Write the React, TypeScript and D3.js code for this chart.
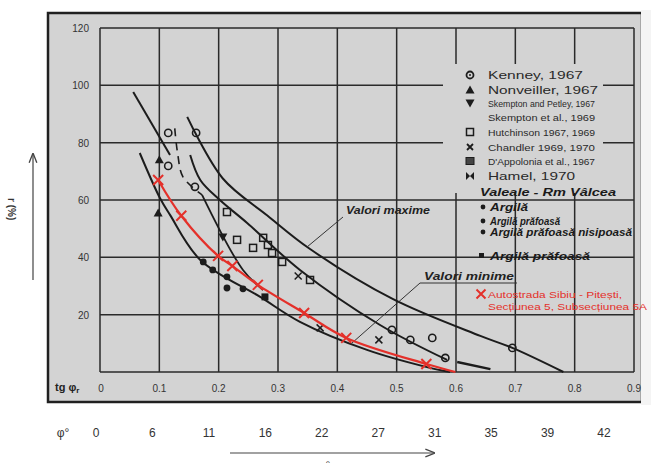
import React from "react";
import * as d3 from "d3";

const W = 651, H = 463;
const xTicks = [0, 0.1, 0.2, 0.3, 0.4, 0.5, 0.6, 0.7, 0.8, 0.9];
const xTickLabels = ["0", "0.1", "0.2", "0.3", "0.4", "0.5", "0.6", "0.7", "0.8", "0.9"];
const yTicks = [0, 20, 40, 60, 80, 100, 120];
const yTickLabels = ["20", "40", "60", "80", "100", "120"];
const phiLabels = ["0", "6", "11", "16", "22", "27", "31", "35", "39", "42"];

type P = [number, number];
const upperCurve: P[] = [[0.147, 89], [0.207, 67.5], [0.282, 54.6], [0.354, 42.9], [0.494, 25.4], [0.641, 12.6], [0.695, 8.4], [0.781, 0]];
const lowerCurve: P[] = [[0.067, 76.4], [0.101, 60.7], [0.118, 54.8], [0.169, 39.1], [0.27, 26.2], [0.337, 17.5], [0.45, 7.7], [0.551, 1.7], [0.59, 0]];
const steepLine: P[] = [[0.056, 97.7], [0.118, 75.7]];
const middleCurve: P[] = [[0.152, 75.7], [0.169, 67], [0.202, 60], [0.248, 52], [0.337, 35.6], [0.472, 16.4], [0.585, 4.2]];
const middleTail: P[] = [[0.602, 3.5], [0.658, 1.0]];
const dashedCurve: P[] = [[0.126, 85], [0.131, 76], [0.14, 68], [0.172, 61.8]];
const innerCurve: P[] = [[0.172, 61.8], [0.241, 35.6], [0.275, 28.6]];

const kenney: P[] = [[0.115, 83.4], [0.162, 83.4], [0.115, 71.9], [0.16, 64.6], [0.492, 14.7], [0.523, 11.2], [0.56, 11.9], [0.582, 4.9], [0.695, 8.4]];
const nonveiller: P[] = [[0.1, 74], [0.098, 55.5]];
const skempton: P[] = [[0.207, 47.1]];
const hutchinson: P[] = [[0.214, 55.8], [0.231, 46.1], [0.258, 43.3], [0.275, 46.8], [0.283, 44.3], [0.29, 41.5], [0.307, 38.4], [0.354, 32.1]];
const chandler: P[] = [[0.334, 33.5], [0.47, 11.2], [0.371, 15.4]];
const valeniDots: P[] = [[0.174, 38.4], [0.19, 35.6], [0.214, 33.2], [0.214, 29.3], [0.241, 29.0]];
const valeniSquares: P[] = [[0.278, 26.2]];
const redPoints: P[] = [[0.098, 67], [0.137, 54.5], [0.199, 40.5], [0.223, 37], [0.266, 30.4], [0.344, 20.6], [0.415, 11.9], [0.55, 2.8]];
const redEnd: P = [0.599, 0];

const legendItems = ["Kenney, 1967", "Nonveiller, 1967", "Skempton and Petley, 1967", "Skempton et al., 1969", "Hutchinson 1967, 1969", "Chandler 1969, 1970", "D'Appolonia et al., 1967", "Hamel, 1970"];
const valeniItems = ["Argilă", "Argilă prăfoasă", "Argilă prăfoasă nisipoasă", "Argilă prăfoasă"];

const x = d3.scaleLinear().domain([0, 0.9]).range([100, 634]);
const y = d3.scaleLinear().domain([0, 120]).range([372, 28]);
const phiX = d3.scalePoint<string>().domain(phiLabels).range([96, 604]);
const line = d3.line<P>().x(d => x(d[0])).y(d => y(d[1])).curve(d3.curveCatmullRom.alpha(0.5));
const straight = d3.line<P>().x(d => x(d[0])).y(d => y(d[1]));

const ink = "#1c1c1c";
const red = "#e4302a";
const font = "Liberation Sans, Arial, sans-serif";

function Circle({ cx, cy }: { cx: number; cy: number }) {
  return <circle cx={cx} cy={cy} r={3.6} fill="none" stroke={ink} strokeWidth={1.6} />;
}
function TriUp({ cx, cy }: { cx: number; cy: number }) {
  return <path d={`M${cx},${cy - 4.5}L${cx + 4.5},${cy + 3.5}L${cx - 4.5},${cy + 3.5}Z`} fill={ink} />;
}
function TriDown({ cx, cy }: { cx: number; cy: number }) {
  return <path d={`M${cx},${cy + 4.5}L${cx + 4.5},${cy - 3.5}L${cx - 4.5},${cy - 3.5}Z`} fill={ink} />;
}
function Square({ cx, cy }: { cx: number; cy: number }) {
  return <rect x={cx - 3.5} y={cy - 3.5} width={7} height={7} fill="none" stroke={ink} strokeWidth={1.5} />;
}
function Cross({ cx, cy, c = ink, s = 3.5, w = 1.5 }: { cx: number; cy: number; c?: string; s?: number; w?: number }) {
  return <path d={`M${cx - s},${cy - s}L${cx + s},${cy + s}M${cx - s},${cy + s}L${cx + s},${cy - s}`} stroke={c} strokeWidth={w} fill="none" />;
}

export default function App() {
  const gridV = xTicks.map(t => x(t));
  const gridH = yTicks.map(t => y(t));
  const legendX = 470, textX = 488;
  const legendY = [75, 90, 103, 117, 132, 147, 161, 176];
  const compact = [false, false, true, true, true, true, true, false];
  const valY = [208, 222, 233, 257];
  return (
    <svg width={W} height={H} style={{ position: "absolute", left: 0, top: 0, background: "#fff" }} fontFamily={font}>
      <defs>
        <marker id="ah" viewBox="0 0 10 10" refX="9" refY="5" markerWidth="8" markerHeight="8" orient="auto">
          <path d="M0,1L10,5L0,9" fill="none" stroke="#444" strokeWidth={1.4} />
        </marker>
      </defs>
      {/* panel */}
      <rect x={48} y={13} width={594} height={389} fill="#d3d3d3" stroke="#202020" strokeWidth={2.5} />
      <rect x={641} y={10} width={10} height={395} fill="#f4f4f4" />
      {/* grid */}
      {gridV.map((gx, i) => (
        <line key={"v" + i} x1={gx} x2={gx} y1={y(120)} y2={y(0)} stroke="#2a2a2a" strokeWidth={1.5} />
      ))}
      {gridH.map((gy, i) => (
        <line key={"h" + i} x1={x(0)} x2={x(0.9)} y1={gy} y2={gy} stroke="#2a2a2a" strokeWidth={1.5} />
      ))}
      {/* legend mask */}
      <rect x={443} y={64} width={160} height={129} fill="#d3d3d3" />
      {/* axis labels */}
      {yTickLabels.map((l, i) => (
        <text key={"yl" + i} x={89} y={y(yTicks[i + 1]) + 4} fontSize={10} textAnchor="end" fill="#333">{l}</text>
      ))}
      {xTickLabels.map((l, i) => (
        <text key={"xl" + i} x={x(xTicks[i]) + (i === 0 ? 1 : 0)} y={392} fontSize={10} textAnchor="middle" fill="#333">{l}</text>
      ))}
      <text x={55} y={391} fontSize={11} fontWeight="bold" fill="#222">tg φ<tspan fontSize={8} dy={2}>r</tspan></text>
      {/* phi row */}
      <text x={63} y={437} fontSize={12} textAnchor="middle" fill="#333">φ°</text>
      {phiLabels.map(l => (
        <text key={"p" + l} x={phiX(l)} y={437} fontSize={12} textAnchor="middle" fill="#333">{l}</text>
      ))}
      <line x1={230} x2={434} y1={453} y2={453} stroke="#444" strokeWidth={1.2} markerEnd="url(#ah)" />
      <text x={324} y={470} fontSize={12} textAnchor="middle" fill="#444">φ°</text>
      {/* left axis label */}
      <line x1={33} x2={33} y1={280} y2={154} stroke="#444" strokeWidth={1.2} markerEnd="url(#ah)" />
      <text transform="translate(8,198) rotate(90)" fontSize={10} fontWeight="bold" fill="#333">r  (%)</text>
      {/* curves */}
      <path d={line(upperCurve) || ""} fill="none" stroke={ink} strokeWidth={2} />
      <path d={line(lowerCurve) || ""} fill="none" stroke={ink} strokeWidth={2} />
      <path d={straight(steepLine) || ""} fill="none" stroke={ink} strokeWidth={2} />
      <path d={line(middleCurve) || ""} fill="none" stroke={ink} strokeWidth={2} />
      <path d={straight(middleTail) || ""} fill="none" stroke={ink} strokeWidth={2.4} />
      <path d={line(dashedCurve) || ""} fill="none" stroke={ink} strokeWidth={1.6} strokeDasharray="8 6" />
      <path d={line(innerCurve) || ""} fill="none" stroke={ink} strokeWidth={1.8} />
      {/* leaders */}
      <line x1={343} y1={217} x2={307} y2={247} stroke="#333" strokeWidth={1} />
      <text x={346} y={214} fontSize={10} fontWeight="bold" fontStyle="italic" fill="#222" textLength={84} lengthAdjust="spacingAndGlyphs">Valori maxime</text>
      <polyline points="517,283 420,283 352,343" fill="none" stroke="#333" strokeWidth={1} />
      <text x={424} y={280} fontSize={10} fontWeight="bold" fontStyle="italic" fill="#222" textLength={90} lengthAdjust="spacingAndGlyphs">Valori minime</text>
      {/* data points */}
      {kenney.map((d, i) => <Circle key={"k" + i} cx={x(d[0])} cy={y(d[1])} />)}
      {nonveiller.map((d, i) => <TriUp key={"n" + i} cx={x(d[0])} cy={y(d[1])} />)}
      {skempton.map((d, i) => <TriDown key={"s" + i} cx={x(d[0])} cy={y(d[1])} />)}
      {hutchinson.map((d, i) => <Square key={"h" + i} cx={x(d[0])} cy={y(d[1])} />)}
      {chandler.map((d, i) => <Cross key={"c" + i} cx={x(d[0])} cy={y(d[1])} />)}
      {valeniDots.map((d, i) => <circle key={"vd" + i} cx={x(d[0])} cy={y(d[1])} r={3.4} fill={ink} />)}
      {valeniSquares.map((d, i) => <rect key={"vs" + i} x={x(d[0]) - 3.5} y={y(d[1]) - 3.5} width={7} height={7} fill={ink} />)}
      {/* red series */}
      <path d={line([...redPoints, redEnd]) || ""} fill="none" stroke={red} strokeWidth={2.2} />
      {redPoints.map((d, i) => <Cross key={"r" + i} cx={x(d[0])} cy={y(d[1])} c={red} s={5} w={2} />)}
      {/* legend */}
      {legendItems.map((l, i) => {
        const cy = legendY[i];
        let m: React.ReactNode = null;
        if (i === 0) m = <><circle cx={legendX} cy={cy} r={3.5} fill="none" stroke={ink} strokeWidth={1.8} /><circle cx={legendX} cy={cy} r={1} fill={ink} /></>;
        else if (i === 1) m = <TriUp cx={legendX} cy={cy} />;
        else if (i === 2) m = <TriDown cx={legendX} cy={cy} />;
        else if (i === 4) m = <Square cx={legendX} cy={cy} />;
        else if (i === 5) m = <Cross cx={legendX} cy={cy} s={3} w={1.8} />;
        else if (i === 6) m = <rect x={legendX - 4} y={cy - 3.5} width={8} height={7} fill="#444" stroke={ink} />;
        else if (i === 7) m = <path d={`M${legendX - 4},${cy - 4}L${legendX + 4},${cy + 4}L${legendX + 4},${cy - 4}L${legendX - 4},${cy + 4}Z`} fill={ink} />;
        return (
          <g key={"lg" + i}>
            {m}
            <text x={textX} y={cy + 4} fontSize={compact[i] ? 9 : 11} fill="#2a2a2a"
              textLength={compact[i] ? 107 : i === 1 ? 110 : i === 0 ? 95 : 87} lengthAdjust="spacingAndGlyphs">{l}</text>
          </g>
        );
      })}
      <text x={480} y={196} fontSize={10} fontWeight="bold" fontStyle="italic" fill="#1a1a1a" textLength={136} lengthAdjust="spacingAndGlyphs">Valeale - Rm Vâlcea</text>
      {valeniItems.map((l, i) => (
        <g key={"vi" + i}>
          {i < 3 ? <circle cx={483} cy={valY[i] - 1} r={2.4} fill={ink} /> : <rect x={479} y={valY[i] - 4} width={5} height={5} fill={ink} />}
          <text x={490} y={valY[i] + 3} fontSize={10} fontWeight="bold" fontStyle="italic" fill="#1a1a1a"
            textLength={[38, 70, 142, 100][i]} lengthAdjust="spacingAndGlyphs">{l}</text>
        </g>
      ))}
      <Cross cx={481} cy={294} c={red} s={4.5} w={2} />
      <text x={488} y={298} fontSize={9} fill={red} textLength={134} lengthAdjust="spacingAndGlyphs">Autostrada Sibiu - Pitești,</text>
      <text x={488} y={310} fontSize={9} fill={red} textLength={159} lengthAdjust="spacingAndGlyphs">Secțiunea 5, Subsecțiunea 5A</text>
    </svg>
  );
}
